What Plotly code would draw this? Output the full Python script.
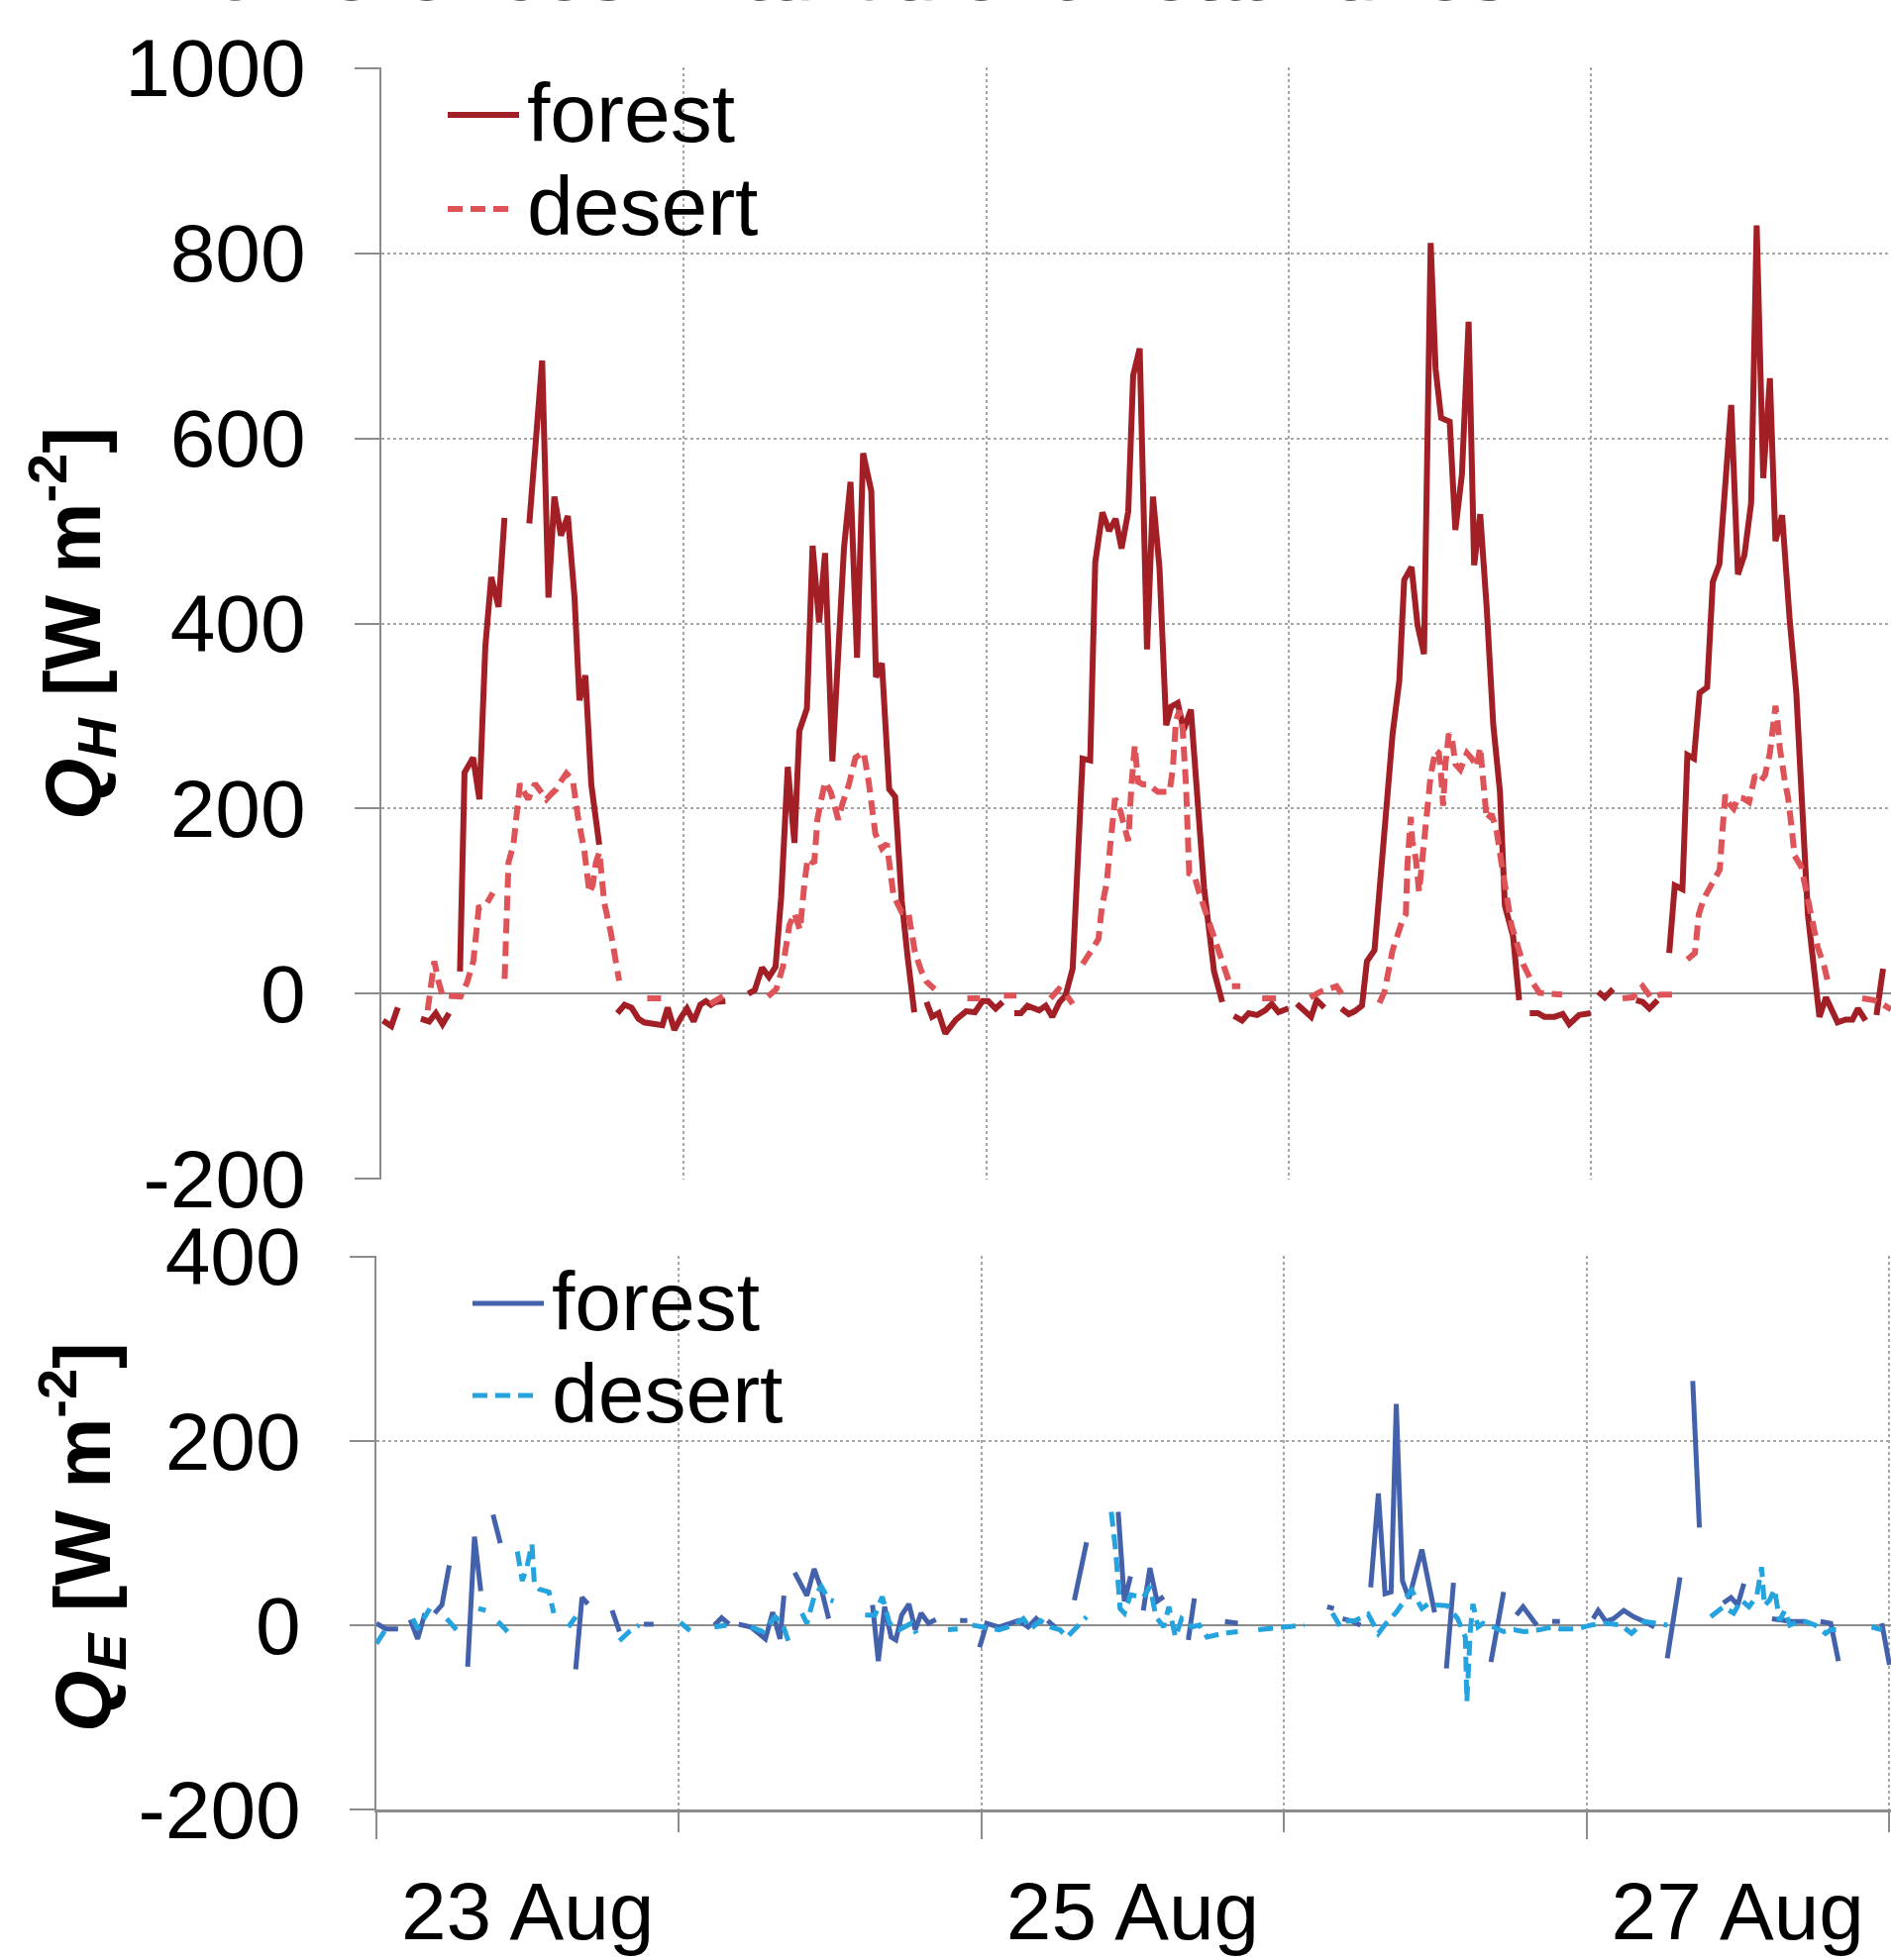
import plotly.graph_objects as go

# ---------------- data (x = hours since 23 Aug 00:00) ----------------
qh_forest_t = [0.13, 0.79, 1.31, None, 3.14, 3.80, 4.32, 4.85, 5.37, None,
               6.24, 6.60, 7.28, 7.78, 8.25, 8.72, 9.30, 9.77, None,
               11.74, 12.76, 13.26, 13.73, 14.25, 14.80, 15.33, 15.72, 16.19, 16.66, 17.29, None,
               18.73, 19.3, 19.85, 20.4, 20.85, 22.3, 22.72, 23.25, 23.8, 24.25, 24.78, 25.31, 25.75, 26.15, 26.5, 27.3, None,
               29.11, 29.63, 30.21, 30.76, 31.28, 31.73, 32.25, 32.78, 33.17, 33.77, 34.22, 34.74, 35.21, 35.79,
               36.71, 37.23, 37.75, 38.23, 38.88, 39.25, 39.72, 40.3, 40.77, 41.29, 41.76, 42.29, None,
               43.26, 43.7, 44.23, 44.75, 45.6, 46.4, 47.1, 47.7, 48.15, 48.75, 49.3, None,
               50.23, 50.75, 51.27, 52.19, 52.72, 53.24, 53.82, 54.29, 54.86, 55.2, 55.65, 56.25, 56.65, 57.22,
               57.75, 58.27, 58.74, 59.27, 59.66, 60.18, 60.76, 61.23, 61.75, 62.28, 62.67, 63.2, 63.67, 64.24,
               64.77, 65.29, 66.08, 66.73, None,
               67.65, 68.3, 68.83, 69.48, 70.14, 70.66, 71.19, 71.97, None,
               72.65, 73.18, 73.78, 74.23, 74.83, None,
               76.19, 76.77, 77.24, 77.82, 78.21, 78.81, 79.2, 79.73, 80.25, 80.78, 81.17, 81.75, 82.22, 82.74,
               83.27, 83.66, 84.1, 84.78, 85.23, 85.75, 86.28, 86.72, 87.2, 87.72, 88.24, 88.77, 89.16, 89.81, 90.29, None,
               91.13, 91.78, 92.3, 93.09, 93.75, 94.27, 95.05, 95.97, None,
               96.56, 97.09, 97.74, None, 99.58, 100.1, 100.63, 101.28, None,
               102.2, 102.64, 103.25, 103.64, 104.16, 104.61, 105.21, 105.66, 106.18, 106.65, 107.12, 107.65,
               108.17, 108.7, 109.14, 109.66, 110.19, 110.63, 111.16, 111.76, 112.28, 113.2, 114.12, 114.64,
               115.56, 116.21, 116.74, 117.18, 117.78, None, 118.65, 119.17]
qh_forest_v = [-29, -35, -15, None, -27, -30, -21, -33, -21, None,
               24, 239, 255, 210, 375, 450, 418, 514, None,
               508, 684, 428, 537, 495, 516, 428, 317, 344, 226, 161, None,
               -21, -12, -15, -27, -31, -34, -15, -39, -25, -16, -30, -12, -8, -12, -9, -8, None,
               0, 4, 28, 18, 29, 105, 245, 163, 284, 308, 484, 401, 476, 251,
               481, 553, 363, 584, 543, 342, 357, 221, 213, 101, 40, -20, None,
               -9, -25, -21, -43, -28, -19, -20, -8, -8, -16, -9, None,
               -21, -21, -13, -18, -13, -25, -9, -2, 27, 114, 254, 252, 466, 520,
               500, 513, 481, 521, 668, 697, 372, 537, 460, 290, 310, 314, 285, 307,
               199, 114, 24, -9, None,
               -24, -29, -21, -23, -18, -11, -20, -16, None,
               -11, -17, -25, -7, -15, None,
               -16, -22, -19, -13, 35, 47, 110, 191, 281, 338, 447, 461, 399, 367,
               811, 675, 622, 618, 501, 561, 726, 463, 518, 416, 290, 218, 95, 62, -7, None,
               -21, -21, -25, -25, -22, -33, -23, -21, None,
               2, -4, 5, None, -7, -9, -16, -7, None,
               44, 117, 113, 258, 254, 325, 331, 445, 464, 543, 636, 453,
               474, 530, 830, 557, 665, 489, 517, 404, 326, 86, -25, -4,
               -31, -28, -28, -16, -29, None, -23, 27]

qh_desert_t = [3.67, 4.2, 4.5, 4.85, 6.29, 6.8, 7.3, 7.73, 8.25, 8.85, None,
               9.78, 10.09, 10.48, 11.0, 11.27, 11.66, 12.19, 12.71, 13.1, 13.5, 13.89, 14.28, 14.68, 15.2,
               15.6, 16.12, 16.51, 16.77, 17.03, 17.3, 17.69, 18.21, 18.87, None,
               21.1, 22.2, None, 26.1, 27.2, None,
               30.68, 31.34, 31.86, 32.38, 32.78, 33.22, 33.56, 33.82, 34.35, 34.61, 34.87, 35.21, 35.66, 36.26,
               36.58, 37.1, 37.62, 38.28, 38.67, 39.2, 39.72, 40.11, 40.64, 41.29, 41.82, 42.34, 42.86, 43.26, 43.91, None,
               46.5, 47.5, None, 49.4, 50.4, None, 53.1, 53.76, 54.29, 54.86, None,
               55.65, 56.25, 56.91, 57.17, 57.56, 57.82, 58.22, 58.61, 59.0, 59.27, 59.53, 59.79, 60.05, 60.44,
               60.84, 61.62, 62.54, 62.8, 63.06, 63.33, 63.59, 63.85, 64.11, 64.51, 64.9, 65.42, 65.82, 66.34,
               66.86, 67.39, 68.17, None,
               69.9, 71.0, None, 73.7, 74.5, 75.8, 76.2, None,
               79.2, 79.6, 79.86, 80.25, 81.04, 81.3, 81.43, 81.69, 81.82, 82.09, 82.35, 82.48, 82.74, 83.0,
               83.27, 83.66, 83.92, 84.1, 84.26, 84.44, 84.71, 84.97, 85.23, 85.62, 86.15, 86.54, 86.93, 87.2,
               87.46, 87.72, 88.11, 88.5, 88.9, 89.29, 89.68, 90.08, 90.6, 91.26, 91.9, 93.7, None,
               98.5, 99.3, 100.1, 100.75, 101.5, 102.6, None,
               103.64, 104.24, 104.55, 104.95, 105.6, 106.21, 106.39, 106.65, 106.91, 107.31, 107.65, 108.09,
               108.54, 108.75, 109.01, 109.48, 109.8, 110.19, 110.45, 110.63, 110.79, 110.97, 111.37, 111.63,
               111.89, 112.15, 112.68, 113.07, 113.41, 113.99, 114.51, 114.77, None,
               117.52, 118.44, 119.1, 119.8]
qh_desert_v = [-18, 35, 15, -2, -3, 12, 35, 93, 95, 109, None,
               16, 142, 161, 227, 219, 210, 227, 216, 210, 216, 221, 230, 238, 230,
               191, 153, 109, 117, 142, 153, 98, 66, 14, None,
               -5, -5, None, -11, -2, None,
               -3, 5, 29, 74, 87, 69, 117, 146, 141, 189, 207, 229, 218, 188,
               205, 226, 255, 261, 229, 173, 157, 162, 106, 88, 88, 45, 24, 13, 5, None,
               -5, -5, None, -2, -2, None, -5, 5, 0, -11, None,
               32, 45, 59, 93, 120, 157, 211, 199, 181, 165, 226, 268, 229, 226,
               226, 218, 218, 242, 295, 306, 286, 226, 130, 128, 109, 88, 72, 50,
               29, 8, 8, None,
               -5, -5, None, -4, 2, 8, 0, None,
               -10, 2, 20, 47, 80, 86, 140, 191, 164, 146, 110, 128, 176, 212,
               236, 263, 260, 236, 203, 248, 281, 275, 248, 242, 260, 254, 245, 266,
               224, 188, 194, 176, 140, 104, 74, 56, 32, 14, 1, -1, None,
               -5, -4, 8, -4, -1, -1, None,
               37, 44, 86, 103, 119, 134, 170, 215, 206, 200, 212, 211,
               207, 218, 236, 230, 236, 260, 287, 311, 296, 266, 230, 212,
               182, 149, 137, 110, 92, 50, 29, 14, None,
               -5, -7, -11, -17]

qe_forest_t = [0.0, 0.76, 1.72, None, 2.69, 3.27, 3.85, None, 4.62, 5.2, 5.78, None,
               7.24, 7.78, 8.28, None, 9.25, 9.83, None, 15.81, 16.31, 16.78, None,
               18.7, 19.28, None, 21.22, 21.99, None, 26.81, 27.39, 27.97, None,
               28.74, 29.7, 30.86, 31.44, 32.02, 32.33, None,
               33.18, 34.15, 34.73, 35.3, 35.88, None,
               39.36, 39.82, 40.32, 40.83, 41.21, 41.67, 42.25, 42.75, 43.21, 43.8, 44.38, None,
               46.3, 46.88, None, 47.85, 48.42, 49.39, 50.16, 50.94, 51.71, 52.48, None,
               53.25, 53.83, None, 55.37, 56.34, None, 58.85, 59.34, 59.83, None,
               60.84, 61.37, 61.93, 62.46, None, 64.41, 64.89, None, 67.32, 68.34, None,
               75.43, 75.96, None, 76.65, 77.46, 78.07, None,
               78.88, 79.49, 80.02, 80.5, 80.91, 81.4, 81.92, 82.94, 83.95, None,
               84.89, 85.45, None, 88.42, 89.43, None, 90.44, 90.97, 92.06, None,
               93.28, 93.89, None,
               96.53, 96.93, 97.54, 98.15, 98.96, 99.76, 100.58, 101.39, None,
               102.41, 103.42, None, 104.43, 104.96, None,
               106.86, 107.47, 108.0, 108.49, None, 110.72, 112.34, 113.35, None,
               114.57, 115.38, 115.99, None, 119.43, 120.04]
qe_forest_v = [2, -4, -4, None, 6, -15, 13, None, 13, 22, 65, None,
               -45, 96, 37, None, 120, 89, None, -48, 30, 23, None,
               16, -7, None, 1, 1, None, 0, 8, 1, None,
               1, -2, -15, 14, -15, 32, None,
               57, 32, 61, 39, 7, None,
               22, -39, 20, -13, -16, 11, 23, -5, 13, 2, 6, None,
               5, 5, None, -24, 2, -2, 2, 5, -2, 9, None,
               5, -2, None, 27, 90, None, 123, 26, 53, None,
               16, 62, 26, 31, None, -16, 29, None, 4, 2, None,
               20, 18, None, 7, 4, 0, None,
               41, 143, 34, 36, 240, 48, 29, 82, 14, None,
               -47, 46, None, -40, 36, None, 11, 20, 0, None,
               4, 4, None,
               7, 16, 4, 7, 16, 9, 4, -2, None,
               -36, 52, None, 265, 106, None,
               24, 30, 22, 45, None, 7, 4, 4, None,
               4, 2, -39, None, 2, -43]

qe_desert_t = [0.0, 0.76, None, 2.88, 3.27, 4.23, None, 5.58, 6.35, None, 8.09, 8.67, None,
               9.64, 10.41, None, 11.18, 11.57, 11.95, 12.34, 12.53, 12.92, 13.69, 14.07, None,
               15.23, 15.81, None, 19.28, 20.06, 20.83, None, 24.11, 24.88, None, 26.81, 27.78, None,
               29.7, 30.67, 31.64, 32.21, 32.79, None,
               33.76, 34.15, 34.73, 35.3, 35.88, 36.27, None,
               38.77, 39.55, 40.13, 40.71, 41.48, 42.44, 42.83, None,
               45.34, 46.11, None,
               47.27, 48.23, 49.39, 50.55, 51.32, 51.9, 52.67, 53.45, 54.22, 54.8, 55.57, 56.34, None,
               58.3, 58.65, 59.0, 59.34, 59.83, 60.84, 61.37, 61.85, 62.46, 62.87, 63.39, 63.88, 64.69,
               65.3, 65.91, 67.13, 68.34, None,
               69.96, 71.79, 73.61, None,
               75.84, 76.45, 76.86, 77.67, 78.68, 79.49, 80.1, 80.91, 82.13, 82.94, 83.54, 84.07, 84.97,
               85.78, 86.39, 86.51, 86.79, 86.99, 87.4, 87.8, 88.61, 89.43, 90.24, 91.05, 92.27, 93.28,
               93.89, 95.31, 96.32, 97.54, 98.75, 99.57, 100.58, 101.6, 102.41, None,
               105.85, 106.86, 107.68, 108.28, 108.89, 109.5, 109.9, 110.11, 110.52, 110.92, 111.32,
               111.73, 112.13, 112.94, 113.35, 114.16, 114.97, 115.38, 116.39, None,
               118.62, 119.43]
qe_desert_v = [-20, -4, None, 7, -4, 18, None, 7, -5, None, 18, 16, None,
               4, -7, None, 80, 48, 64, 88, 45, 39, 36, 13, None,
               -2, 9, None, -17, -7, 0, None, 3, -6, None, -2, 0, None,
               -2, -7, 9, 2, -22, None,
               13, 2, 31, 42, 28, 26, None,
               11, 11, 31, 2, -5, 2, -9, None,
               -5, -4, None,
               0, -2, -5, 0, 7, -4, 5, -2, -5, -13, -2, 9, None,
               123, 80, 18, 13, 33, 30, 42, 9, -2, 20, -13, 7, -2,
               0, -13, -9, -7, None,
               -5, -2, 0, None,
               13, -1, 4, 5, 12, -9, 2, 14, 38, 18, 24, 22, 21,
               7, -13, -83, -5, 23, -2, 2, -2, -7, -5, -7, -5, -2,
               -4, -4, 0, 2, 0, -9, 4, 2, 0, None,
               9, 20, 13, 27, 20, 31, 63, 21, 27, 39, 5,
               16, 0, 5, 4, 0, -9, -5, -5, None,
               -2, -5]

series_names = ["forest", "desert"]
day_bounds = [0, 24, 48, 72, 96, 120]
major_day_ticks = [0, 48, 96]
minor_day_ticks = [24, 72, 120]
label_pos = [12, 60, 108]
label_text = ["23 Aug", "25 Aug", "27 Aug"]
qh_ticks = [-200, 0, 200, 400, 600, 800, 1000]
qe_ticks = [-200, 0, 200, 400]

# ---------------- style ----------------
FONT = "Liberation Sans"
AX = "#8C8C8C"
GRID = "#A6A6A6"
C_QH_F = "#A21F25"
C_QH_D = "#DE5357"
C_QE_F = "#4462AC"
C_QE_D = "#25A3DF"
DASH = "15px,8px"
W_QH = 6
W_QE = 5
W = 1909
H = 1979


def ypix(p):
    return 1 - p / H


def tick_text(vals):
    return [str(v) for v in vals]  # plain hyphen minus as in the reference


fig = go.Figure()
fig.add_trace(go.Scatter(x=qh_forest_t, y=qh_forest_v, mode="lines", name=series_names[0],
                         line=dict(color=C_QH_F, width=W_QH), connectgaps=False,
                         xaxis="x", yaxis="y", showlegend=False))
fig.add_trace(go.Scatter(x=qh_desert_t, y=qh_desert_v, mode="lines", name=series_names[1],
                         line=dict(color=C_QH_D, width=W_QH, dash=DASH), connectgaps=False,
                         xaxis="x", yaxis="y", showlegend=False))
fig.add_trace(go.Scatter(x=qe_forest_t, y=qe_forest_v, mode="lines", name=series_names[0],
                         line=dict(color=C_QE_F, width=W_QE), connectgaps=False,
                         xaxis="x2", yaxis="y2", showlegend=False))
fig.add_trace(go.Scatter(x=qe_desert_t, y=qe_desert_v, mode="lines", name=series_names[1],
                         line=dict(color=C_QE_D, width=W_QE, dash=DASH), connectgaps=False,
                         xaxis="x2", yaxis="y2", showlegend=False))

yaxis_common = dict(ticks="outside", ticklen=25, tickwidth=2, tickcolor=AX,
                    showline=True, linecolor=AX, linewidth=2,
                    showgrid=True, gridcolor=GRID, gridwidth=1.5, griddash="dot",
                    zeroline=True, zerolinecolor=AX, zerolinewidth=2,
                    tickfont=dict(family=FONT, size=82, color="black"),
                    ticklabelstandoff=33, automargin=False, fixedrange=True)

fig.update_layout(
    width=W, height=H,
    margin=dict(l=0, r=0, t=0, b=0, autoexpand=False),
    paper_bgcolor="white", plot_bgcolor="white",
    font=dict(family=FONT, color="black"),
    showlegend=False,
    xaxis=dict(domain=[385 / W, 1], range=[0, 119.8], anchor="y", automargin=False,
               tickmode="array", tickvals=day_bounds, showticklabels=False, ticks="",
               showgrid=True, gridcolor=GRID, gridwidth=1.5, griddash="dot",
               zeroline=False, showline=False),
    yaxis=dict(domain=[ypix(1191), ypix(68)], range=[-200.8, 1000.8], anchor="x",
               tickmode="array", tickvals=qh_ticks, ticktext=tick_text(qh_ticks), **yaxis_common),
    xaxis2=dict(domain=[380 / W, 1], range=[0, 120.16], anchor="y2", automargin=False,
                tickmode="array", tickvals=major_day_ticks, ticktext=["", "", ""],
                ticks="outside", ticklen=27, tickcolor=AX, tickwidth=1.5,
                showgrid=True, gridcolor=GRID, gridwidth=1.5, griddash="dot",
                zeroline=False, showline=True, linecolor=AX, linewidth=2.5,
                minor=dict(tickmode="array", tickvals=minor_day_ticks, ticks="outside", ticklen=20,
                           tickcolor=AX, tickwidth=1.5, showgrid=True, gridcolor=GRID,
                           gridwidth=1.5, griddash="dot")),
    xaxis3=dict(domain=[380 / W, 1], range=[0, 120.16], anchor="y2", overlaying="x2",
                side="bottom", automargin=False,
                tickmode="array", tickvals=label_pos, ticktext=label_text, ticks="",
                tickfont=dict(family=FONT, size=82, color="black"), ticklabelstandoff=48,
                showgrid=False, zeroline=False, showline=False),
    yaxis2=dict(domain=[ypix(1827), ypix(1268)], range=[-200, 400.8], anchor="x2",
                tickmode="array", tickvals=qe_ticks, ticktext=tick_text(qe_ticks), **yaxis_common),
)

# invisible carrier so the date-label axis is drawn
fig.add_trace(go.Scatter(x=[label_pos[0]], y=[0], mode="markers", marker=dict(opacity=0),
                         xaxis="x3", yaxis="y2", showlegend=False, hoverinfo="skip"))

# ---------------- legends (line sample + text) ----------------
legend_items = [
    # (x0, x1, y_line, text_x, text_y, color, dash, width, label)
    (452, 524, 116, 530, 114, C_QH_F, None, W_QH, series_names[0]),
    (452, 520, 211, 530, 208, C_QH_D, DASH, W_QH, series_names[1]),
    (477, 549, 1316, 555, 1314, C_QE_F, None, W_QE, series_names[0]),
    (477, 545, 1409, 555, 1407, C_QE_D, DASH, W_QE, series_names[1]),
]
for x0, x1, yl, tx, ty, col, dsh, wd, lab in legend_items:
    fig.add_shape(type="line", xref="paper", yref="paper",
                  x0=x0 / W, x1=x1 / W, y0=ypix(yl), y1=ypix(yl),
                  line=dict(color=col, width=wd, dash=dsh if dsh else "solid"))
    fig.add_annotation(text=lab, xref="paper", yref="paper", x=tx / W, y=ypix(ty),
                       xanchor="left", yanchor="middle", showarrow=False,
                       font=dict(family=FONT, size=84, color="black"))

# ---------------- axis titles and cut-off heading ----------------
fig.add_annotation(text="<b><i>Q</i><sub><i>H</i></sub> [W m<sup>-2</sup>]</b>",
                   xref="paper", yref="paper", x=72 / W, y=ypix(630),
                   xanchor="center", yanchor="middle", textangle=-90, showarrow=False,
                   font=dict(family=FONT, size=80, color="black"))
fig.add_annotation(text="<b><i>Q</i><sub><i>E</i></sub> [W m<sup>-2</sup>]</b>",
                   xref="paper", yref="paper", x=82 / W, y=ypix(1552),
                   xanchor="center", yanchor="middle", textangle=-90, showarrow=False,
                   font=dict(family=FONT, size=80, color="black"))
fig.add_annotation(text="A-2 differences in turbulent heat fluxes",
                   xref="paper", yref="paper", x=57 / W, y=ypix(20.5),
                   xanchor="left", yanchor="bottom", showarrow=False,
                   font=dict(family=FONT, size=86, color="#555555"))

fig.write_html("out.html")
